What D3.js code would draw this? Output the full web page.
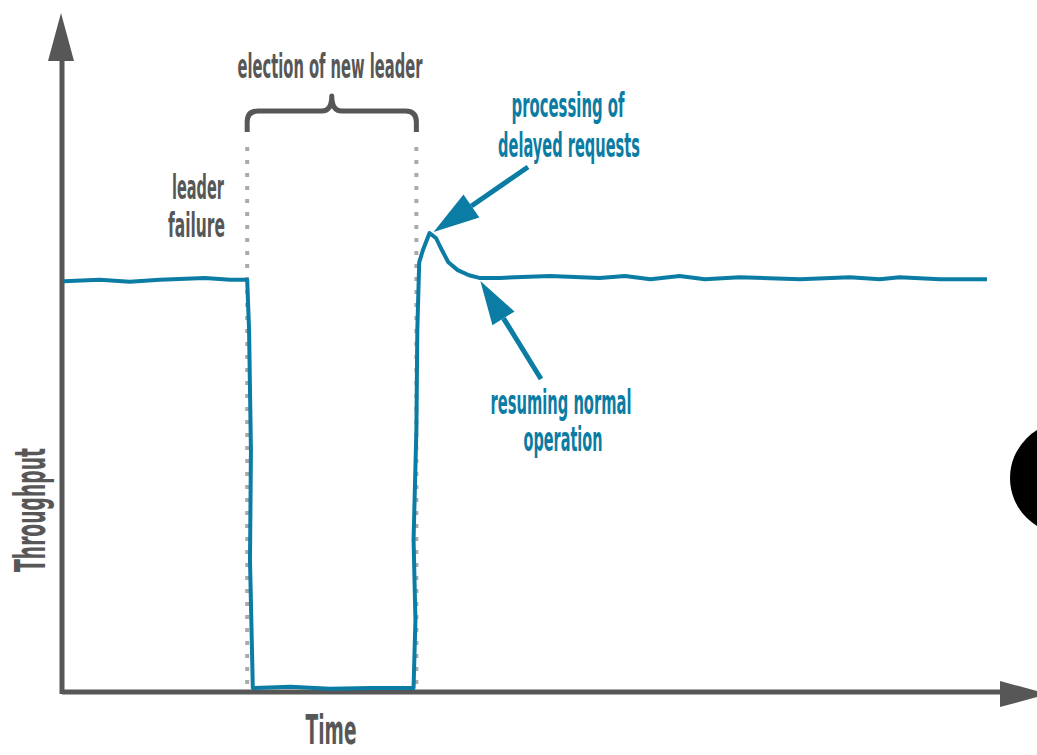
<!DOCTYPE html>
<meta charset="utf-8">
<script src="https://d3js.org/d3.v7.min.js"></script>
<style>
  body { margin: 0; background: #fff; }
  text { font-family: "Liberation Sans Narrow", "DejaVu Sans Condensed", "Roboto", sans-serif; font-weight: bold; }
</style>
<div id="chart"></div>
<script>

// throughput over time (time 0..100, throughput 0..100)
var times = [0.2, 4.0, 7.2, 10.4, 15.2, 17.9, 19.7, 19.9, 20.1, 20.0, 20.3, 24.3, 28.5, 32.8, 37.4,
             37.6, 37.4, 37.7, 37.8, 38.0, 38.4, 39.1, 39.8, 40.3, 41.1, 42.1, 43.3, 44.4, 46.6,
             51.9, 57.2, 59.9, 62.6, 65.7, 68.4, 72.1, 78.5, 83.8, 87.0, 89.1, 93.4, 98.4];
var throughput = [62.9, 63.1, 62.8, 63.1, 63.4, 63.1, 63.1, 55.4, 36.9, 20.0, 0.3, 0.5, 0.2, 0.3, 0.3,
                  10.8, 23.1, 40.0, 55.4, 65.8, 67.7, 70.3, 69.5, 68.0, 65.8, 64.6, 63.8, 63.4, 63.4,
                  63.7, 63.4, 63.7, 63.2, 63.7, 63.2, 63.5, 63.2, 63.5, 63.2, 63.5, 63.2, 63.2];

var failureTime = 19.7;
var recoveryTime = 37.7;
var peakTime = 39.1, peakValue = 70.3;
var resumeTime = 44.4, resumeValue = 63.4;

var electionLabel = ["election of new leader"];
var failureLabel = ["leader", "failure"];
var peakLabel = ["processing of", "delayed requests"];
var resumeLabel = ["resuming normal", "operation"];
var xTitle = "Time", yTitle = "Throughput";

var W = 1037, H = 755;
var grey = "#575757", blue = "#0b7ca3";

var svg = d3.select("#chart").append("svg")
    .attr("width", W)
    .attr("height", H);

var x = d3.scaleLinear().domain([0, 100]).range([62, 1002]);
var y = d3.scaleLinear().domain([0, 100]).range([690, 40]);

// dotted guides
[failureTime, recoveryTime].forEach(function(t) {
  svg.append("line")
    .attr("x1", x(t)).attr("x2", x(t))
    .attr("y1", 147).attr("y2", 692)
    .attr("stroke", "#aaa")
    .attr("stroke-width", 4)
    .attr("stroke-dasharray", "4,9");
});

// axes
svg.append("line")
  .attr("x1", 62).attr("x2", 1005)
  .attr("y1", 692).attr("y2", 692)
  .attr("stroke", grey).attr("stroke-width", 5);
svg.append("line")
  .attr("x1", 62).attr("x2", 62)
  .attr("y1", 694).attr("y2", 55)
  .attr("stroke", grey).attr("stroke-width", 5);
svg.append("path")
  .attr("d", "M61,13 L74,61 L48,61 Z")
  .attr("fill", grey);
svg.append("path")
  .attr("d", "M1048,694 L1000,681 L1000,707 Z")
  .attr("fill", grey);

// brace
var bl = x(failureTime), br = x(recoveryTime), bm = (bl + br) / 2;
svg.append("path")
  .attr("d", "M" + bl + ",132 L" + bl + ",122 Q" + bl + ",111 " + (bl + 11) + ",111 L" + (bm - 10) + ",111" +
             " Q" + bm + ",111 " + bm + ",96 Q" + bm + ",111 " + (bm + 10) + ",111 L" + (br - 11) + ",111" +
             " Q" + br + ",111 " + br + ",122 L" + br + ",132")
  .attr("fill", "none")
  .attr("stroke", grey)
  .attr("stroke-width", 5)
  .attr("stroke-linejoin", "round");

// throughput line
var pts = times.map(function(t, i) { return [t, throughput[i]]; });
svg.append("path")
  .datum(pts)
  .attr("fill", "none")
  .attr("stroke", blue)
  .attr("stroke-width", 4)
  .attr("stroke-linejoin", "round")
  .attr("d", d3.line()
    .x(function(d) { return x(d[0]); })
    .y(function(d) { return y(d[1]); }));

// arrows
function arrow(tx, ty, fx, fy, headLen, headW) {
  var dx = fx - tx, dy = fy - ty, len = Math.sqrt(dx * dx + dy * dy);
  var ux = dx / len, uy = dy / len;
  var bx = tx + ux * headLen, by = ty + uy * headLen;
  svg.append("line")
    .attr("x1", bx).attr("y1", by).attr("x2", fx).attr("y2", fy)
    .attr("stroke", blue).attr("stroke-width", 5);
  svg.append("path")
    .attr("d", "M" + tx + "," + ty +
               " L" + (bx - uy * headW / 2) + "," + (by + ux * headW / 2) +
               " L" + (bx + uy * headW / 2) + "," + (by - ux * headW / 2) + " Z")
    .attr("fill", blue);
}
arrow(x(peakTime) + 4, y(peakValue) - 1, 528, 167, 46, 28);
arrow(x(resumeTime) + 1, y(resumeValue) + 3, 541, 379, 44, 26);

// text helper: squeeze text horizontally to a given width
function label(str, cx, by, size, color, width, anchor) {
  var g = svg.append("g");
  var t = g.append("text")
    .attr("text-anchor", anchor || "middle")
    .attr("font-size", size)
    .attr("fill", color)
    .text(str);
  var k = width / t.node().getComputedTextLength();
  g.attr("transform", "translate(" + cx + "," + by + ") scale(" + k + ",1)");
  return g;
}

label(electionLabel[0], 330, 78, 33, grey, 185);
label(failureLabel[0], 224, 199, 34, grey, 52, "end");
label(failureLabel[1], 225, 237, 34, grey, 57, "end");
label(peakLabel[0], 568, 117, 33, blue, 113);
label(peakLabel[1], 569, 157, 33, blue, 142);
label(resumeLabel[0], 561, 414, 33, blue, 141);
label(resumeLabel[1], 563, 451, 33, blue, 79);
label(xTitle, 331, 744, 40, grey, 51);

var yt = svg.append("g");
var ytt = yt.append("text")
  .attr("text-anchor", "middle")
  .attr("font-size", 42)
  .attr("fill", grey)
  .text(yTitle);
var ky = 124 / ytt.node().getComputedTextLength();
yt.attr("transform", "translate(45,510) rotate(-90) scale(" + ky + ",1)");

// black circle at the right edge
svg.append("circle")
  .attr("cx", 1066).attr("cy", 478).attr("r", 56)
  .attr("fill", "#000");

</script>
